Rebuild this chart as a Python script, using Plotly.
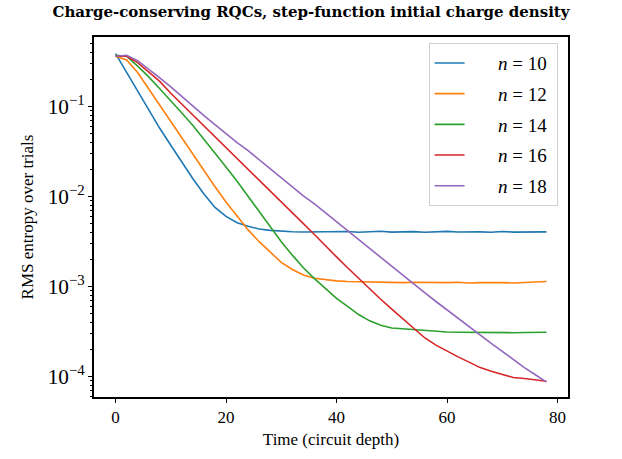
import plotly.graph_objects as go

depth = list(range(0, 80, 2))

rms_n10 = [3.89e-1, 2.40e-1, 1.48e-1, 9.12e-2, 5.75e-2, 3.72e-2, 2.40e-2, 1.58e-2, 1.07e-2, 7.59e-3,
           6.03e-3, 5.13e-3, 4.68e-3, 4.37e-3, 4.22e-3, 4.12e-3, 4.08e-3, 4.05e-3, 4.07e-3, 4.04e-3,
           4.08e-3, 4.10e-3, 4.03e-3, 4.06e-3, 4.12e-3, 4.04e-3, 4.07e-3, 4.09e-3, 4.03e-3, 4.08e-3,
           4.11e-3, 4.05e-3, 4.09e-3, 4.06e-3, 4.02e-3, 4.10e-3, 4.04e-3, 4.07e-3, 4.03e-3, 4.06e-3]
rms_n12 = [3.63e-1, 3.31e-1, 2.40e-1, 1.58e-1, 1.05e-1, 6.92e-2, 4.47e-2, 2.95e-2, 1.95e-2, 1.29e-2,
           8.71e-3, 6.03e-3, 4.27e-3, 3.16e-3, 2.40e-3, 1.86e-3, 1.55e-3, 1.35e-3, 1.24e-3, 1.19e-3,
           1.16e-3, 1.14e-3, 1.13e-3, 1.12e-3, 1.13e-3, 1.12e-3, 1.11e-3, 1.12e-3, 1.11e-3, 1.12e-3,
           1.11e-3, 1.12e-3, 1.10e-3, 1.11e-3, 1.12e-3, 1.11e-3, 1.10e-3, 1.11e-3, 1.12e-3, 1.14e-3]
rms_n14 = [3.72e-1, 3.63e-1, 2.82e-1, 2.14e-1, 1.58e-1, 1.17e-1, 8.51e-2, 6.17e-2, 4.37e-2, 3.09e-2,
           2.14e-2, 1.48e-2, 1.00e-2, 6.76e-3, 4.57e-3, 3.16e-3, 2.24e-3, 1.62e-3, 1.23e-3, 9.55e-4,
           7.41e-4, 6.03e-4, 4.90e-4, 4.17e-4, 3.72e-4, 3.47e-4, 3.39e-4, 3.31e-4, 3.24e-4, 3.16e-4,
           3.14e-4, 3.12e-4, 3.10e-4, 3.08e-4, 3.09e-4, 3.07e-4, 3.08e-4, 3.09e-4, 3.13e-4, 3.11e-4]
rms_n16 = [3.63e-1, 3.63e-1, 3.09e-1, 2.45e-1, 1.91e-1, 1.41e-1, 1.07e-1, 8.13e-2, 6.17e-2, 4.68e-2,
           3.55e-2, 2.69e-2, 2.04e-2, 1.55e-2, 1.17e-2, 8.71e-3, 6.61e-3, 5.01e-3, 3.80e-3, 2.82e-3,
           2.14e-3, 1.62e-3, 1.23e-3, 9.33e-4, 7.24e-4, 5.62e-4, 4.37e-4, 3.39e-4, 2.69e-4, 2.24e-4,
           1.91e-4, 1.66e-4, 1.45e-4, 1.26e-4, 1.15e-4, 1.05e-4, 9.77e-5, 9.55e-5, 9.23e-5, 8.91e-5]
rms_n18 = [3.63e-1, 3.72e-1, 3.24e-1, 2.63e-1, 2.09e-1, 1.66e-1, 1.29e-1, 1.00e-1, 7.94e-2, 6.31e-2,
           5.01e-2, 3.98e-2, 3.24e-2, 2.57e-2, 2.04e-2, 1.62e-2, 1.29e-2, 1.02e-2, 8.32e-3, 6.61e-3,
           5.25e-3, 4.17e-3, 3.31e-3, 2.63e-3, 2.14e-3, 1.70e-3, 1.35e-3, 1.06e-3, 8.51e-4, 6.84e-4,
           5.50e-4, 4.42e-4, 3.55e-4, 2.88e-4, 2.34e-4, 1.91e-4, 1.55e-4, 1.26e-4, 1.05e-4, 8.71e-5]

series_labels = ["<i>n</i> = 10", "<i>n</i> = 12", "<i>n</i> = 14", "<i>n</i> = 16", "<i>n</i> = 18"]
series_values = [rms_n10, rms_n12, rms_n14, rms_n16, rms_n18]
colors = ["#1f77b4", "#ff7f0e", "#2ca02c", "#d62728", "#9467bd"]

x_ticks = [0, 20, 40, 60, 80]

SERIF = "Liberation Serif, Times New Roman, serif"

fig = go.Figure()
for i, (lab, vals, col) in enumerate(zip(series_labels, series_values, colors)):
    fig.add_trace(go.Scatter(x=depth, y=vals, mode="lines",
                             name="&nbsp;" * 6 + lab + "&nbsp;",
                             legendgroup="g%d" % i,
                             line=dict(color=col, width=1.6)))

fig.update_layout(
    width=622, height=459,
    margin=dict(l=94, r=54, t=37, b=62),
    paper_bgcolor="white", plot_bgcolor="white",
    title=dict(text="<b>Charge-conserving RQCs, step-function initial charge density</b>",
               x=0.5, xanchor="center", y=0.975, yanchor="middle",
               font=dict(family="DejaVu Serif", size=15, color="black")),
    font=dict(family=SERIF, color="black"),
    showlegend=True,
    legend=dict(x=0.978, xanchor="right", y=0.983, yanchor="top",
                bordercolor="#d0d0d0", borderwidth=1, bgcolor="rgba(255,255,255,0.8)",
                font=dict(family=SERIF, size=19), tracegroupgap=3),
)

fig.update_xaxes(
    range=[-3.9, 81.9], tickvals=x_ticks, ticktext=[str(v) for v in x_ticks],
    showgrid=False, zeroline=False, showline=True, linecolor="black", linewidth=1.6, mirror=True,
    ticks="outside", ticklen=4, tickwidth=1, tickcolor="black",
    tickfont=dict(family=SERIF, size=17),
    title=dict(text="Time (circuit depth)", font=dict(family=SERIF, size=17), standoff=7),
)
fig.update_yaxes(
    type="log", range=[-4.226, -0.226], dtick=1, exponentformat="power",
    showgrid=False, zeroline=False, showline=True, linecolor="black", linewidth=1.6, mirror=True,
    ticks="outside", ticklen=4, tickwidth=1, tickcolor="black",
    tickfont=dict(family=SERIF, size=17),
    minor=dict(ticks="outside", ticklen=2, tickwidth=0.8, tickcolor="black", dtick="D1", showgrid=False),
    title=dict(text="RMS entropy over trials", font=dict(family=SERIF, size=17), standoff=10),
)

fig.write_html("out.html")
